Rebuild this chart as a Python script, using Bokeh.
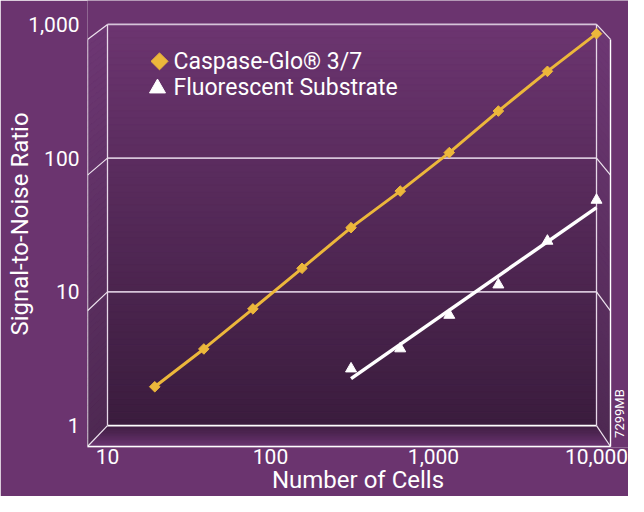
import numpy as np
from math import pi
from bokeh.plotting import figure
from bokeh.models import FixedTicker, Range1d
from bokeh.core.properties import value
from bokeh.embed import file_html
from bokeh.resources import INLINE

# ---------------- data ----------------
caspase_cells = [19.5, 39, 78, 156, 312, 625, 1250, 2500, 5000, 10000]
caspase_snr = [1.95, 3.74, 7.46, 15.0, 30.2, 56.7, 110, 225, 446, 853]
fluor_cells = [312, 625, 1250, 2500, 5000, 10000]
fluor_snr = [2.66, 3.76, 6.7, 11.3, 24.0, 48.6]
x_ticks = [10, 100, 1000, 10000]
x_tick_labels = ["10", "100", "1,000", "10,000"]
y_ticks = [1, 10, 100, 1000]
y_tick_labels = ["1", "10", "100", "1,000"]
series_names = ["Caspase-Glo\u00ae 3/7", "Fluorescent Substrate"]
x_title = "Number of Cells"
y_title = "Signal-to-Noise Ratio"
figure_code = "7299MB"

# ---------------- styles / geometry (picture pixels) ----------------
FONT = "Roboto"
GOLD = "#ecb73b"
WHITE = "#ffffff"
BG = "#6b346f"
W, H = 628, 496
BACK_L, BACK_R, BACK_T, BACK_B = 107, 596, 24, 426   # back wall: x 10..10000, y 1..1000
FRAME_L, FRAME_R, FRAME_T, FRAME_B = 87, W, 0, 448
LEFT_FRONT_X, RIGHT_FRONT_X = 87, 610
LEFT_FRONT_TOP, RIGHT_FRONT_TOP, FLOOR_FRONT = 39, 39, 447
CODE_X, CODE_Y = 619, 414

XMIN, XMAX = x_ticks[0], x_ticks[-1]
YMIN, YMAX = y_ticks[0], y_ticks[-1]
DEC_X = (BACK_R - BACK_L) / np.log10(XMAX / XMIN)
DEC_Y = (BACK_B - BACK_T) / np.log10(YMAX / YMIN)


def px2x(px):
    return XMIN * 10 ** ((px - BACK_L) / DEC_X)


def py2y(py):
    return YMIN * 10 ** ((BACK_B - py) / DEC_Y)


def y2py(y):
    return BACK_B - np.log10(y / YMIN) * DEC_Y


def hex2rgb(h):
    h = h.lstrip("#")
    return np.array([int(h[i:i + 2], 16) for i in (0, 2, 4)], dtype=float)


def lerp(c0, c1, t):
    a, b = hex2rgb(c0), hex2rgb(c1)
    c = a + (b - a) * t
    return "#%02x%02x%02x" % tuple(int(round(v)) for v in c)


p = figure(width=W, height=H, x_axis_type="log", y_axis_type="log",
           x_range=Range1d(px2x(FRAME_L), px2x(FRAME_R)),
           y_range=Range1d(py2y(FRAME_B), py2y(FRAME_T)),
           output_backend="svg", toolbar_location=None,
           min_border_left=FRAME_L, min_border_right=W - FRAME_R,
           min_border_top=FRAME_T, min_border_bottom=H - FRAME_B)
p.background_fill_color = BG
p.border_fill_color = BG
p.outline_line_color = None
p.grid.visible = False

# ---------------- 3D box ----------------
N = 60
tops, bots, cols = [], [], []
for i in range(N):
    y0 = BACK_T + (BACK_B - BACK_T) * i / N
    y1 = BACK_T + (BACK_B - BACK_T) * (i + 1) / N
    tops.append(py2y(y0))
    bots.append(py2y(y1))
    cols.append(lerp("#6c3570", "#3a1c3d", (i + 0.5) / N))
p.quad(left=XMIN, right=XMAX, top=tops, bottom=bots, fill_color=cols, line_color=cols, line_width=0.5)


def side_wall(back_x, front_x, front_top):
    xs, ys, cs = [], [], []
    for i in range(N):
        t0, t1 = i / N, (i + 1) / N
        b0 = BACK_T + (BACK_B - BACK_T) * t0
        b1 = BACK_T + (BACK_B - BACK_T) * t1
        f0 = front_top + (FLOOR_FRONT - front_top) * t0
        f1 = front_top + (FLOOR_FRONT - front_top) * t1
        xs.append([px2x(back_x), px2x(back_x), px2x(front_x), px2x(front_x)])
        ys.append([py2y(b0), py2y(b1), py2y(f1), py2y(f0)])
        cs.append(lerp("#6d3773", "#4e2952", (t0 + t1) / 2))
    return xs, ys, cs


for bx, fx, ft in [(BACK_L, LEFT_FRONT_X, LEFT_FRONT_TOP), (BACK_R, RIGHT_FRONT_X, RIGHT_FRONT_TOP)]:
    xs, ys, cs = side_wall(bx, fx, ft)
    p.patches(xs, ys, fill_color=cs, line_color=cs, line_width=0.5)


def floor_edge(s):
    return (BACK_L + (LEFT_FRONT_X - BACK_L) * s, BACK_R + (RIGHT_FRONT_X - BACK_R) * s,
            BACK_B + (FLOOR_FRONT - BACK_B) * s)


xs, ys, cs = [], [], []
M = 20
for i in range(M):
    s0, s1 = i / M, (i + 1) / M
    l0, r0, fy0 = floor_edge(s0)
    l1, r1, fy1 = floor_edge(s1)
    xs.append([px2x(l0), px2x(r0), px2x(r1), px2x(l1)])
    ys.append([py2y(fy0), py2y(fy0), py2y(fy1), py2y(fy1)])
    cs.append(lerp("#3d1e40", "#6c3672", (s0 + s1) / 2))
p.patches(xs, ys, fill_color=cs, line_color=cs, line_width=0.5)

# back wall gridlines and edges
p.multi_line([[XMIN, XMAX]] * 3, [[v, v] for v in y_ticks[1:]], line_color="#d6c4d9", line_width=1.8)
p.multi_line([[XMIN, XMAX]], [[YMIN, YMIN]], line_color=WHITE, line_width=1.8)
p.multi_line([[XMIN, XMIN], [XMAX, XMAX]], [[YMIN, YMAX], [YMIN, YMAX]], line_color="#e6d8e8", line_width=1.3)


def front_y(back_py, front_top):
    return front_top + (back_py - BACK_T) * (FLOOR_FRONT - front_top) / (BACK_B - BACK_T)


dx, dy = [], []
for v in y_ticks:
    bpy = y2py(v)
    dx.append([XMIN, px2x(LEFT_FRONT_X)])
    dy.append([v, py2y(front_y(bpy, LEFT_FRONT_TOP))])
    dx.append([XMAX, px2x(RIGHT_FRONT_X)])
    dy.append([v, py2y(front_y(bpy, RIGHT_FRONT_TOP))])
p.multi_line(dx, dy, line_color="#eee4ef", line_width=1.2)
p.multi_line([[px2x(LEFT_FRONT_X)] * 2, [px2x(RIGHT_FRONT_X)] * 2,
              [px2x(LEFT_FRONT_X), px2x(RIGHT_FRONT_X)]],
             [[py2y(LEFT_FRONT_TOP), py2y(FLOOR_FRONT)], [py2y(RIGHT_FRONT_TOP), py2y(FLOOR_FRONT)],
              [py2y(FLOOR_FRONT)] * 2],
             line_color=WHITE, line_width=1.4)

# ---------------- data ----------------
p.line(caspase_cells, caspase_snr, line_color=GOLD, line_width=3)
p.scatter(caspase_cells, caspase_snr, marker="square", angle=pi / 4, size=7.5,
          fill_color=GOLD, line_color=GOLD)

coef = np.polyfit(np.log10(fluor_cells), np.log10(fluor_snr), 1)
fit_x = np.array([min(fluor_cells), max(fluor_cells)], dtype=float)
fit_y = 10 ** np.polyval(coef, np.log10(fit_x))
p.line(fit_x, fit_y, line_color=WHITE, line_width=3.5)
p.scatter(fluor_cells, fluor_snr, marker="triangle", size=11, fill_color=WHITE, line_color=WHITE)

# ---------------- legend ----------------
LEG_MARK_X = [159, 157]
LEG_Y = [61, 87]
LEG_TEXT_X = 173
p.scatter([px2x(LEG_MARK_X[0])], [py2y(LEG_Y[0])], marker="square", angle=pi / 4, size=12,
          fill_color=GOLD, line_color=GOLD)
p.scatter([px2x(LEG_MARK_X[1])], [py2y(LEG_Y[1] + 1)], marker="triangle", size=16,
          fill_color=WHITE, line_color=WHITE)
p.text([px2x(LEG_TEXT_X)] * 2, [py2y(y) for y in LEG_Y], text=series_names,
       text_font=value(FONT), text_font_size="23px", text_color=WHITE,
       text_baseline="middle", text_align="left")

# figure code at right edge
p.text([px2x(CODE_X)], [py2y(CODE_Y)], text=[figure_code], angle=pi / 2,
       text_font=value(FONT), text_font_size="13px", text_color=WHITE,
       text_baseline="middle", text_align="center")

# ---------------- axes ----------------
for ax, ticks, labels in [(p.xaxis[0], x_ticks, x_tick_labels), (p.yaxis[0], y_ticks, y_tick_labels)]:
    ax.ticker = FixedTicker(ticks=ticks, minor_ticks=[])
    ax.major_label_overrides = {t: l for t, l in zip(ticks, labels)}
    ax.axis_line_color = None
    ax.major_tick_line_color = None
    ax.minor_tick_line_color = None
    ax.major_tick_out = 0
    ax.major_tick_in = 0
    ax.major_label_text_color = WHITE
    ax.major_label_text_font = FONT
    ax.major_label_text_font_size = "21px"
    ax.axis_label_text_color = WHITE
    ax.axis_label_text_font = FONT
    ax.axis_label_text_font_size = "24px"
    ax.axis_label_text_font_style = "normal"

p.xaxis.axis_label = x_title
p.yaxis.axis_label = y_title
p.xaxis.major_label_standoff = 1
p.xaxis.axis_label_standoff = -1
p.yaxis.major_label_standoff = 8
p.yaxis.axis_label_standoff = -9

open("out.html", "w").write(file_html(p, INLINE))
